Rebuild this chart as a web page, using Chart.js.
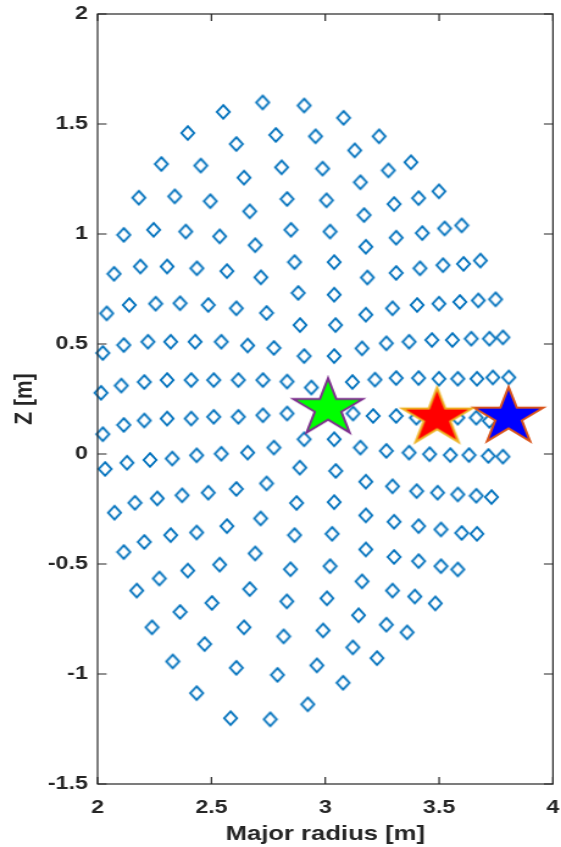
<!DOCTYPE html>
<html><head><meta charset="utf-8">
<script src="https://cdn.jsdelivr.net/npm/chart.js@4"></script>
<style>
html,body{margin:0;padding:0;background:#fff;overflow:hidden;}
#wrap{position:relative;width:460px;height:847px;transform:scaleX(1.2196);transform-origin:0 0;}
</style></head><body>
<div id="wrap"><canvas id="c"></canvas></div>
<script>
// ---- data ----
const xTicks = [2, 2.5, 3, 3.5, 4];
const yTicks = [-1.5, -1, -0.5, 0, 0.5, 1, 1.5, 2];
const xTitle = 'Major radius [m]';
const yTitle = 'Z [m]';

// probe positions (diamonds): major radius R [m]
const probeR = [
2.552,2.725,2.907,3.080,2.396,2.609,2.783,2.957,3.236,3.129,
2.280,2.453,2.643,2.808,2.988,3.277,3.376,3.154,2.181,2.339,
2.495,2.668,2.832,3.005,3.302,3.410,3.499,3.170,2.115,2.246,
2.387,2.536,2.692,2.849,3.021,3.311,3.426,3.524,3.599,3.178,
2.072,2.188,2.305,2.436,2.568,2.717,2.865,3.039,3.311,3.416,
3.517,3.607,3.681,3.185,2.881,3.039,2.040,2.139,2.255,2.362,
2.486,2.609,2.742,2.889,3.045,3.178,3.295,3.403,3.499,3.591,
3.672,3.748,2.023,2.115,2.221,2.321,2.428,2.543,2.659,2.774,
2.907,3.039,3.161,3.268,3.368,3.468,3.558,3.641,3.721,3.780,
2.015,2.104,2.205,2.305,2.411,2.510,2.618,2.726,2.832,2.939,
3.119,3.218,3.311,3.410,3.499,3.582,3.666,3.736,3.806,2.023,
2.115,2.205,2.305,2.411,2.510,2.618,2.726,2.832,3.122,3.210,
3.311,3.400,3.582,3.663,3.721,2.907,3.039,3.154,3.268,3.368,
3.458,3.549,3.631,3.716,3.780,2.033,2.129,2.230,2.328,2.435,
2.543,2.659,2.774,2.888,3.046,3.178,3.295,3.401,3.493,3.582,
3.663,3.730,2.074,2.164,2.262,2.371,2.486,2.609,2.742,2.874,
3.039,3.178,3.302,3.410,3.508,3.599,3.666,2.115,2.205,2.321,
2.435,2.568,2.716,2.865,3.030,3.178,3.302,3.410,3.508,3.582,
2.172,2.271,2.396,2.536,2.692,2.847,3.021,3.161,3.295,3.393,
3.483,2.239,2.362,2.502,2.668,2.831,3.007,3.146,3.268,3.359,
2.330,2.470,2.643,2.817,2.990,3.121,3.227,2.435,2.609,2.790,
2.963,3.078,2.584,2.758,2.923
];
// probe positions (diamonds): height Z [m]
const probeZ = [
1.555,1.598,1.584,1.528,1.459,1.409,1.450,1.444,1.444,1.380,
1.318,1.311,1.256,1.303,1.297,1.289,1.326,1.235,1.165,1.171,
1.149,1.103,1.159,1.153,1.136,1.163,1.194,1.086,0.996,1.019,
1.011,0.989,0.949,1.019,1.011,0.983,1.004,1.025,1.039,0.942,
0.819,0.852,0.852,0.844,0.831,0.803,0.872,0.872,0.823,0.844,
0.858,0.864,0.879,0.802,0.732,0.724,0.639,0.677,0.683,0.685,
0.677,0.662,0.641,0.586,0.586,0.633,0.662,0.677,0.683,0.691,
0.698,0.703,0.459,0.495,0.510,0.510,0.510,0.510,0.493,0.482,
0.445,0.445,0.480,0.503,0.510,0.518,0.518,0.524,0.524,0.530,
0.278,0.311,0.327,0.336,0.336,0.336,0.336,0.336,0.329,0.302,
0.327,0.338,0.345,0.345,0.342,0.342,0.342,0.348,0.348,0.090,
0.132,0.152,0.161,0.161,0.169,0.169,0.176,0.184,0.184,0.173,
0.173,0.165,0.165,0.165,0.150,0.067,0.067,0.029,0.014,0.006,
-0.001,-0.005,-0.005,-0.009,-0.012,-0.068,-0.040,-0.027,-0.021,-0.006,
0.001,0.006,0.029,-0.062,-0.077,-0.126,-0.147,-0.169,-0.176,-0.184,
-0.190,-0.196,-0.267,-0.222,-0.202,-0.188,-0.176,-0.159,-0.134,-0.223,
-0.219,-0.279,-0.308,-0.328,-0.343,-0.359,-0.363,-0.446,-0.400,-0.369,
-0.357,-0.328,-0.293,-0.369,-0.363,-0.434,-0.468,-0.487,-0.510,-0.525,
-0.621,-0.566,-0.530,-0.503,-0.452,-0.524,-0.510,-0.579,-0.621,-0.648,
-0.679,-0.788,-0.718,-0.677,-0.614,-0.670,-0.656,-0.733,-0.776,-0.811,
-0.943,-0.864,-0.788,-0.829,-0.802,-0.879,-0.928,-1.087,-0.972,-1.004,
-0.961,-1.040,-1.201,-1.206,-1.138
];

// star markers
const starR = [3.012, 3.491, 3.805];
const starZ = [0.208, 0.165, 0.169];
const starFill = ['#00ff00', '#ff0000', '#0000ff'];
const starEdge = ['#7e2f8e', '#edb120', '#d95319'];

// ---- marker images ----
function makeDiamond(){
  const c = document.createElement('canvas');
  c.width = 14; c.height = 18;
  const g = c.getContext('2d');
  const cx = 7, cy = 9, hw = 5.2, hh = 6.8;
  g.strokeStyle = '#0072bd'; g.lineWidth = 1.9; g.lineJoin = 'miter';
  g.beginPath();
  g.moveTo(cx, cy - hh); g.lineTo(cx + hw, cy); g.lineTo(cx, cy + hh); g.lineTo(cx - hw, cy);
  g.closePath(); g.stroke();
  return c;
}
function makeStar(fill, edge){
  const c = document.createElement('canvas');
  c.width = 66; c.height = 66;
  const g = c.getContext('2d');
  const cx = 33, cy = 33, R = 30, r = R * 0.382;
  g.beginPath();
  for (let i = 0; i < 10; i++){
    const a = -Math.PI/2 + i * Math.PI/5;
    const rr = (i % 2 === 0) ? R : r;
    const px = cx + rr*Math.cos(a), py = cy + rr*Math.sin(a);
    if (i === 0) g.moveTo(px, py); else g.lineTo(px, py);
  }
  g.closePath();
  g.fillStyle = fill; g.fill();
  g.strokeStyle = edge; g.lineWidth = 2; g.lineJoin = 'miter'; g.stroke();
  return c;
}

const diamond = makeDiamond();
const datasets = [];
starR.forEach((r, i) => {
  datasets.push({
    label: 'star' + i,
    data: [{x: r, y: starZ[i]}],
    pointStyle: makeStar(starFill[i], starEdge[i]),
    pointRadius: 30, pointHoverRadius: 30,
    showLine: false, clip: false, order: 0
  });
});
datasets.push({
  label: 'probes',
  data: probeR.map((r, i) => ({x: r, y: probeZ[i]})),
  pointStyle: diamond,
  pointRadius: 7, pointHoverRadius: 7,
  showLine: false, clip: false, order: 1
});

const TXT = '#262626';
const FONT = 'Liberation Sans, Arial, sans-serif';
const fmt = v => String(v);

const frame = {
  id: 'frame',
  afterDraw(chart){
    const {ctx, chartArea: a, scales: {x, y}} = chart;
    ctx.save();
    ctx.strokeStyle = TXT; ctx.lineWidth = 1.2;
    ctx.strokeRect(a.left, a.top, a.right - a.left, a.bottom - a.top);
    ctx.beginPath();
    x.ticks.forEach(t => {
      const p = x.getPixelForValue(t.value);
      ctx.moveTo(p, a.bottom); ctx.lineTo(p, a.bottom - 7);
      ctx.moveTo(p, a.top); ctx.lineTo(p, a.top + 7);
    });
    y.ticks.forEach(t => {
      const p = y.getPixelForValue(t.value);
      ctx.moveTo(a.left, p); ctx.lineTo(a.left + 7.4, p);
      ctx.moveTo(a.right, p); ctx.lineTo(a.right - 7.4, p);
    });
    ctx.stroke();
    ctx.restore();
  }
};

new Chart(document.getElementById('c'), {
  type: 'scatter',
  data: {datasets},
  options: {
    responsive: true, maintainAspectRatio: false, animation: false,
    devicePixelRatio: 1,
    layout: {autoPadding: false, padding: {top: 14, right: 6.6, bottom: 0, left: 0}},
    plugins: {legend: {display: false}, tooltip: {enabled: false}},
    scales: {
      x: {
        type: 'linear', min: 2, max: 4,
        afterBuildTicks: s => { s.ticks = xTicks.map(v => ({value: v})); },
        afterFit: s => { s.height = 63; s.paddingLeft = 0; s.paddingRight = 0; },
        grid: {display: false, drawTicks: false}, border: {display: false},
        ticks: {autoSkip: false, maxRotation: 0, padding: 12, color: TXT, callback: fmt,
                font: {family: FONT, size: 19, weight: 'bold'}},
        title: {display: true, text: xTitle, color: TXT, padding: {top: 0, bottom: 0},
                font: {family: FONT, size: 21, weight: 'bold'}}
      },
      y: {
        type: 'linear', min: -1.5, max: 2,
        afterBuildTicks: s => { s.ticks = yTicks.map(v => ({value: v})); },
        afterFit: s => { s.width = 80; s.paddingTop = 0; s.paddingBottom = 0; },
        grid: {display: false, drawTicks: false}, border: {display: false},
        ticks: {autoSkip: false, padding: 8, color: TXT, callback: fmt,
                font: {family: FONT, size: 19, weight: 'bold'}},
        title: {display: true, text: yTitle, color: TXT, padding: {top: 8, bottom: 0},
                font: {family: FONT, size: 21, weight: 'bold'}}
      }
    }
  },
  plugins: [frame]
});
</script>
</body></html>
